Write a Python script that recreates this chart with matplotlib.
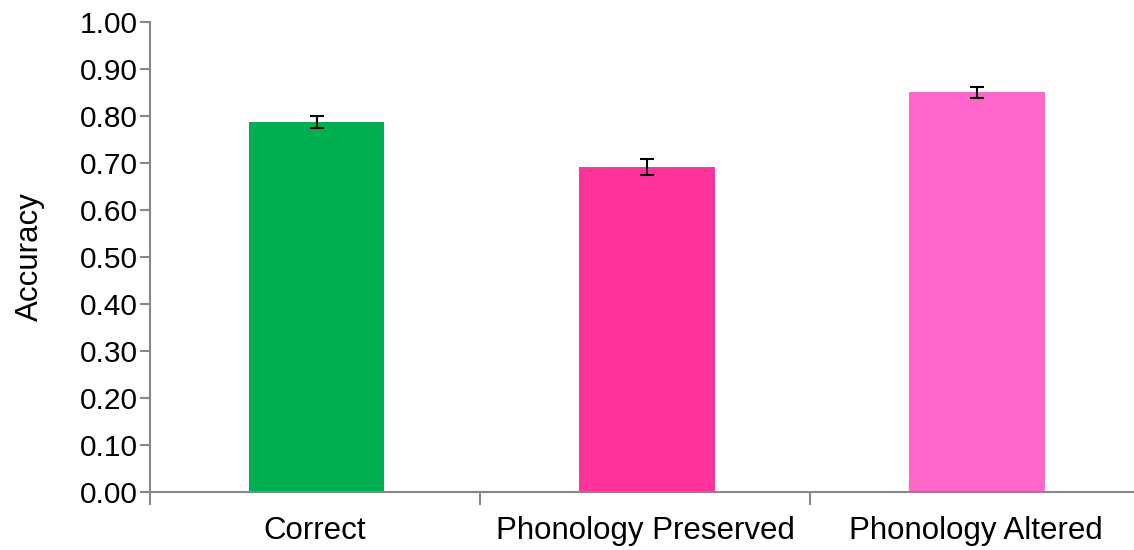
import numpy as np
import matplotlib.pyplot as plt

plt.rcParams["font.family"] = ["Liberation Sans", "DejaVu Sans"]

categories = ["Correct", "Phonology Preserved", "Phonology Altered"]
accuracy = [0.788, 0.691, 0.850]
errors = [0.013, 0.017, 0.011]
colors = ["#00B050", "#FF3399", "#FF66CC"]

fig = plt.figure(figsize=(11.34, 5.5), dpi=100)
ax = fig.add_axes([0.1323, 0.1055, 0.8735, 0.8545])

x = np.arange(len(categories))
ax.bar(x + 0.005, accuracy, width=0.41, color=colors, zorder=2)
ax.errorbar(x + 0.005, accuracy, yerr=errors, fmt="none", ecolor="black",
            elinewidth=1.5, capsize=5, capthick=1.5, zorder=3)

ax.set_xlim(-0.5, len(categories) - 0.5)
ax.set_ylim(0, 1.0)
yticks = np.arange(0, 1.01, 0.1)
ax.set_yticks(yticks)
ax.set_yticklabels(["{:.2f}".format(v) for v in yticks], fontsize=21.5)

ax.set_xticks(x)
ax.set_xticklabels(categories, fontsize=22.5)
ax.tick_params(axis="x", length=0, pad=17)
ax.set_xticks(np.arange(-0.5, len(categories)), minor=True)
ax.tick_params(axis="x", which="minor", length=9, width=1.5, color="#888888")
ax.tick_params(axis="y", length=7, width=1.5, color="#888888", pad=2)

ax.set_ylabel("Accuracy", fontsize=22.5, labelpad=25)

for side in ["top", "right"]:
    ax.spines[side].set_visible(False)
for side in ["left", "bottom"]:
    ax.spines[side].set_color("#888888")
    ax.spines[side].set_linewidth(1.5)

fig.savefig("out.png", dpi=100)
